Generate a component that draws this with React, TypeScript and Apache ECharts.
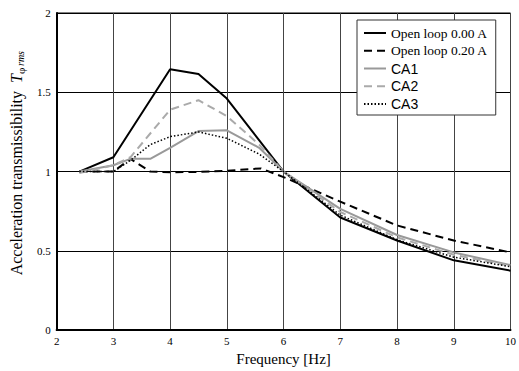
import React, { useEffect, useRef } from "react";
import * as echarts from "echarts";

const legendNames = ["Open loop 0.00 A", "Open loop 0.20 A", "CA1", "CA2", "CA3"];
const xTicks = [2, 3, 4, 5, 6, 7, 8, 9, 10];

const openLoop000: number[][] = [[2.4, 1.0], [3.0, 1.09], [4.0, 1.645], [4.5, 1.615], [5.0, 1.46], [6.0, 1.0], [7, 0.71], [8, 0.565], [9, 0.44], [10, 0.375]];
const openLoop020: number[][] = [[2.4, 1.0], [3.0, 1.0], [3.3, 1.08], [3.65, 1.0], [4.0, 0.995], [4.5, 0.998], [5.0, 1.005], [5.6, 1.02], [6.0, 0.965], [7, 0.81], [8, 0.66], [9, 0.565], [10, 0.49]];
const ca1: number[][] = [[2.4, 1.0], [3.0, 1.04], [3.3, 1.08], [3.65, 1.08], [4.0, 1.15], [4.5, 1.255], [5.0, 1.26], [5.57, 1.15], [6, 1.0], [7, 0.765], [8, 0.6], [9, 0.49], [10, 0.41]];
const ca2: number[][] = [[2.4, 0.99], [3.0, 1.04], [3.3, 1.09], [4.0, 1.39], [4.5, 1.45], [5.0, 1.35], [5.57, 1.17], [6, 1.0], [7, 0.745], [8, 0.585], [9, 0.475], [10, 0.405]];
const ca3: number[][] = [[2.4, 1.0], [3.0, 1.0], [3.3, 1.07], [3.65, 1.17], [4.0, 1.22], [4.5, 1.25], [5.0, 1.21], [5.57, 1.11], [6, 1.0], [7, 0.725], [8, 0.57], [9, 0.46], [10, 0.4]];

const serif = "Liberation Serif";
const sans = "Liberation Sans";

export default function App() {
  const ref = useRef<HTMLDivElement>(null);
  useEffect(() => {
    if (!ref.current) return;
    const chart = echarts.init(ref.current, undefined, { renderer: "svg" });
    const mk = (name: string, data: number[][], color: string, width: number, type: any) => ({
      name,
      type: "line",
      data,
      symbol: "circle",
      showSymbol: false,
      lineStyle: { color, width, type },
      itemStyle: { color },
    });
    chart.setOption({
      animation: false,
      backgroundColor: "#fff",
      grid: { left: 56, right: 7, top: 13, bottom: 33, show: true, borderColor: "#000", borderWidth: 1, backgroundColor: "transparent" },
      legend: {
        data: legendNames,
        orient: "vertical",
        left: 357,
        top: 20,
        backgroundColor: "#fff",
        borderColor: "#333",
        borderWidth: 1,
        borderRadius: 0,
        padding: [6, 8, 4, 6],
        itemGap: 3.75,
        itemWidth: 22,
        itemHeight: 14,
        itemStyle: { opacity: 0 },
        formatter: (n: string) => (n.startsWith("Open") ? `{s|${n}}` : `{a|${n}}`),
        textStyle: {
          color: "#000",
          rich: {
            s: { fontFamily: serif, fontSize: 13.5, color: "#000" },
            a: { fontFamily: sans, fontSize: 14, color: "#000" },
          },
        },
      },
      xAxis: {
        type: "value",
        min: xTicks[0],
        max: xTicks[xTicks.length - 1],
        interval: 1,
        name: "Frequency [Hz]",
        nameLocation: "middle",
        nameGap: 19,
        nameTextStyle: { fontFamily: serif, fontSize: 15, color: "#000" },
        axisLine: { lineStyle: { color: "#000", width: 2 } },
        axisTick: { show: false },
        axisLabel: { fontFamily: serif, fontSize: 11, color: "#000", margin: 5 },
        splitLine: { show: true, lineStyle: { color: "#444", width: 1 } },
      },
      yAxis: {
        type: "value",
        min: 0,
        max: 2,
        interval: 0.5,
        name: "Acceleration transmissibility  {T|T}{sub|φ}",
        nameLocation: "middle",
        nameGap: 20,
        nameTextStyle: {
          fontFamily: serif,
          fontSize: 16,
          color: "#000",
          rich: {
            T: { fontFamily: serif, fontSize: 16, fontStyle: "italic", color: "#000" },
            sub: { fontFamily: serif, fontSize: 11, color: "#000", padding: [9, 0, 0, 0] },
          },
        },
        axisLine: { show: true, lineStyle: { color: "#000", width: 2 } },
        axisTick: { show: false },
        axisLabel: { fontFamily: serif, fontSize: 11, color: "#000", margin: 6 },
        splitLine: { show: true, lineStyle: { color: "#000", width: 1 } },
      },
      graphic: [
        {
          type: "text",
          x: 25,
          y: 66,
          rotation: Math.PI / 2,
          style: { text: "rms", font: `italic 10px ${serif}`, fill: "#000", align: "left", verticalAlign: "bottom" },
        },
      ],
      series: [
        mk(legendNames[0], openLoop000, "#000", 2, "solid"),
        mk(legendNames[1], openLoop020, "#000", 2, [8, 5]),
        mk(legendNames[2], ca1, "#999", 2, "solid"),
        mk(legendNames[3], ca2, "#aaa", 2, [8, 5]),
        mk(legendNames[4], ca3, "#000", 1.5, [1.5, 2]),
      ],
    });
    return () => chart.dispose();
  }, []);
  return <div ref={ref} style={{ width: 519, height: 371, position: "absolute", left: 0, top: 0 }} />;
}
